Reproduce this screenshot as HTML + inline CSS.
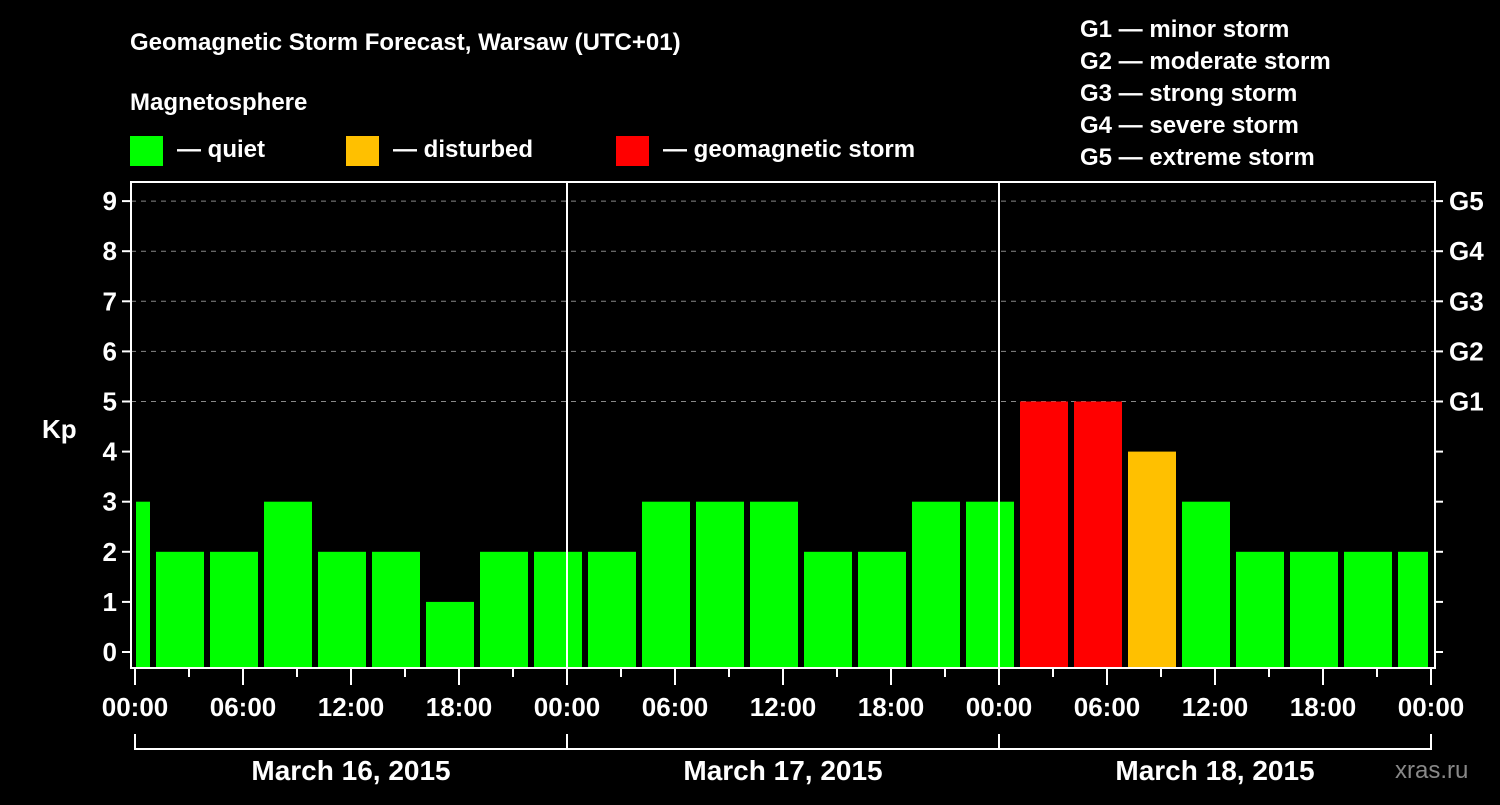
<!DOCTYPE html>
<html><head><meta charset="utf-8"><style>
body{margin:0;background:#000;width:1500px;height:800px;overflow:hidden}
svg text{font-family:"Liberation Sans",sans-serif;font-weight:bold;fill:#fff}
</style></head><body>
<svg id="c" width="1500" height="800">
<text x="130" y="50" font-size="24">Geomagnetic Storm Forecast, Warsaw (UTC+01)</text>
<text x="130" y="110" font-size="24">Magnetosphere</text>
<g><rect x="130" y="136" width="33" height="30" fill="#00ff00"/><text x="177" y="157" font-size="24">— quiet</text></g>
<g><rect x="346" y="136" width="33" height="30" fill="#ffc000"/><text x="393" y="157" font-size="24">— disturbed</text></g>
<g><rect x="616" y="136" width="33" height="30" fill="#ff0000"/><text x="663" y="157" font-size="24">— geomagnetic storm</text></g>
<g font-size="24">
<text x="1080" y="37" font-size="24">G1 — minor storm</text>
<text x="1080" y="69" font-size="24">G2 — moderate storm</text>
<text x="1080" y="101" font-size="24">G3 — strong storm</text>
<text x="1080" y="133" font-size="24">G4 — severe storm</text>
<text x="1080" y="165" font-size="24">G5 — extreme storm</text>
</g>
<text x="42" y="438" font-size="26">Kp</text>
<text x="1395" y="778" font-size="24" fill="#888" style="fill:#888;font-weight:normal">xras.ru</text>
<g id="plot"></g>
</svg>
<script>
const kpValues=[3,2,2,3,2,2,1,2,2,2,3,3,3,2,2,3,3,5,5,4,3,2,2,2,2];
const yTicks=[0,1,2,3,4,5,6,7,8,9];
const gLabels=["G1","G2","G3","G4","G5"];
const xTickLabels=["00:00","06:00","12:00","18:00","00:00","06:00","12:00","18:00","00:00","06:00","12:00","18:00","00:00"];
const dayLabels=["March 16, 2015","March 17, 2015","March 18, 2015"];
const NS="http://www.w3.org/2000/svg";
const g=document.getElementById('plot');
const L=131,R=1435,T=182,B=668,X0=135,PXH=18;
const x=h=>X0+h*PXH, y=k=>652-50.1*k;
function mk(t,a){const e=document.createElementNS(NS,t);for(const k in a)e.setAttribute(k,a[k]);g.appendChild(e);return e;}
// grid
yTicks.forEach(k=>{
 if(k>=5){const l=mk('line',{x1:L,x2:R,y1:y(k),y2:y(k),stroke:'#888','stroke-dasharray':'5,5','stroke-width':1});
 
 }
 const t=mk('line',{x1:L-9,x2:L,y1:y(k),y2:y(k),stroke:'#fff','stroke-width':2});
 
 
 const t2=mk('line',{x1:R,x2:R+8,y1:y(k),y2:y(k),stroke:'#fff','stroke-width':2});
 
 
 const tx=mk('text',{x:L-14,y:y(k)+9,'font-size':26,'text-anchor':'end'});tx.textContent=k;
 
 
});
gLabels.forEach((s,i)=>{const tx=mk('text',{x:R+14,y:y(5+i)+9,'font-size':26});tx.textContent=s;
 
 });
// bars
kpValues.forEach((v,i)=>{
 const h0=i===0?-2:1+3*(i-1);
 let a=Math.max(x(h0)+3,X0+1),b=Math.min(x(h0+3)-3,x(72)-3);
 const col=v>=5?'#ff0000':(v>=4?'#ffc000':'#00ff00');
 const r=mk('rect',{x:a,y:y(v),width:b-a,height:B-y(v),fill:col});
 
 
});
// frame
const f=mk('rect',{x:L,y:T,width:R-L,height:B-T,fill:'none',stroke:'#fff','stroke-width':2});


[24,48].forEach(h=>{const l=mk('line',{x1:x(h),x2:x(h),y1:T,y2:B,stroke:'#fff','stroke-width':2});
 
 });
// x ticks
for(let h=0;h<=72;h+=3){const long=h%6===0;
 const l=mk('line',{x1:x(h),x2:x(h),y1:B,y2:B+(long?17:9),stroke:'#fff','stroke-width':2});
 
 }
xTickLabels.forEach((s,i)=>{const tx=mk('text',{x:x(i*6),y:716,'font-size':26,'text-anchor':'middle'});tx.textContent=s;
 
 });
// day brackets
const br=mk('line',{x1:x(0),x2:x(72),y1:749,y2:749,stroke:'#fff','stroke-width':2});


[0,24,48,72].forEach(h=>{const l=mk('line',{x1:x(h),x2:x(h),y1:734,y2:750,stroke:'#fff','stroke-width':2});
 
 });
dayLabels.forEach((s,i)=>{const tx=mk('text',{x:x(i*24+12),y:780,'font-size':28,'text-anchor':'middle'});tx.textContent=s;
 
 });
</script>
</body></html>
